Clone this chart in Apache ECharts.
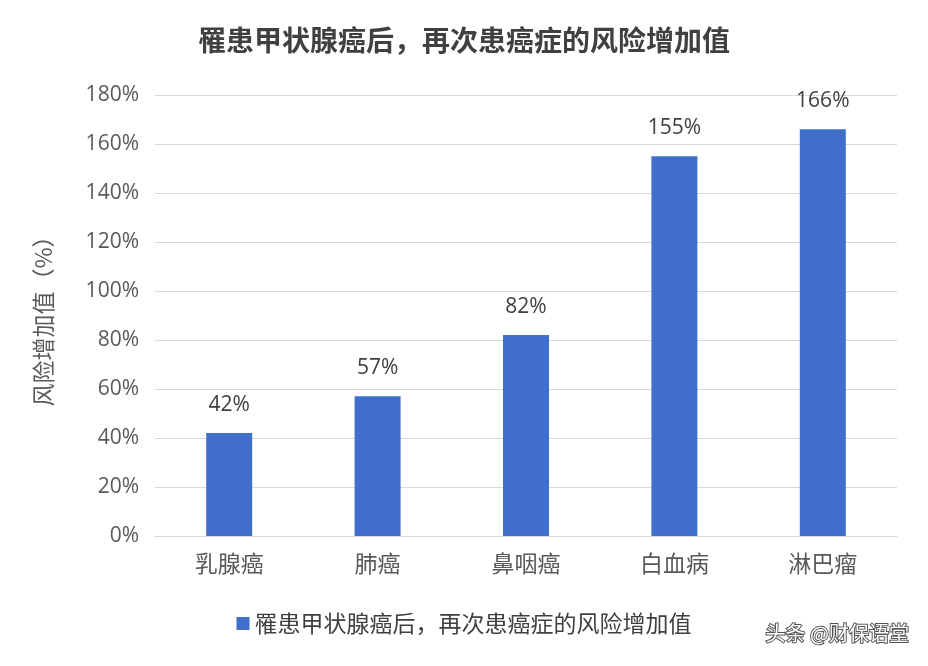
<!DOCTYPE html>
<html><head><meta charset="utf-8">
<script src="https://cdn.jsdelivr.net/npm/echarts@6/dist/echarts.min.js"></script>
<style>html,body{margin:0;padding:0;background:#fff}#c{width:928px;height:666px}</style>
</head><body><div id="c"></div>
<script>
const categories = ['乳腺癌','肺癌','鼻咽癌','白血病','淋巴瘤'];
const values = [42, 57, 82, 155, 166];
const seriesName = '罹患甲状腺癌后，再次患癌症的风险增加值';
const titleText = '罹患甲状腺癌后，再次患癌症的风险增加值';
const yAxisName = '风险增加值（%）';
const chart = echarts.init(document.getElementById('c'));
const font = '"Noto Sans CJK SC", "Noto Sans", sans-serif';
const numFont = '"Open Sans", "Noto Sans CJK SC", sans-serif';
chart.setOption({
  animation:false,
  textStyle:{fontFamily:font},
  title:{text:titleText,left:'center',top:21,textStyle:{fontSize:28,fontWeight:'bold',color:'#404040',fontFamily:font}},
  grid:{left:155,right:31,top:95,bottom:130},
  legend:{bottom:26,left:'center',itemWidth:13,itemHeight:13,itemGap:8,icon:'rect',textStyle:{fontSize:23,color:'#404040'},data:[seriesName]},
  xAxis:{type:'category',data:categories,axisTick:{show:false},axisLine:{lineStyle:{color:'#d9d9d9'}},
    axisLabel:{fontSize:23,color:'#595959',margin:16}},
  yAxis:{type:'value',min:0,max:180,interval:20,name:yAxisName,nameLocation:'middle',nameGap:100,nameRotate:90,
    nameTextStyle:{fontSize:23,color:'#595959'},
    axisLabel:{formatter:'{value}%',fontSize:21,color:'#595959',margin:16,fontFamily:numFont},
    splitLine:{lineStyle:{color:'#d9d9d9'}},axisLine:{show:false}},
  series:[{name:seriesName,type:'bar',data:values,barWidth:46,itemStyle:{color:'#3F6FCB'},
    label:{show:true,position:'top',formatter:'{c}%',fontSize:21,color:'#404040',distance:18,fontFamily:numFont}}],
  graphic:[{type:'text',right:18,bottom:22,style:{text:'头条 @财保语堂',fontSize:20,fill:'#fff',stroke:'#555',lineWidth:2,fontFamily:font}}]
});
</script></body></html>
